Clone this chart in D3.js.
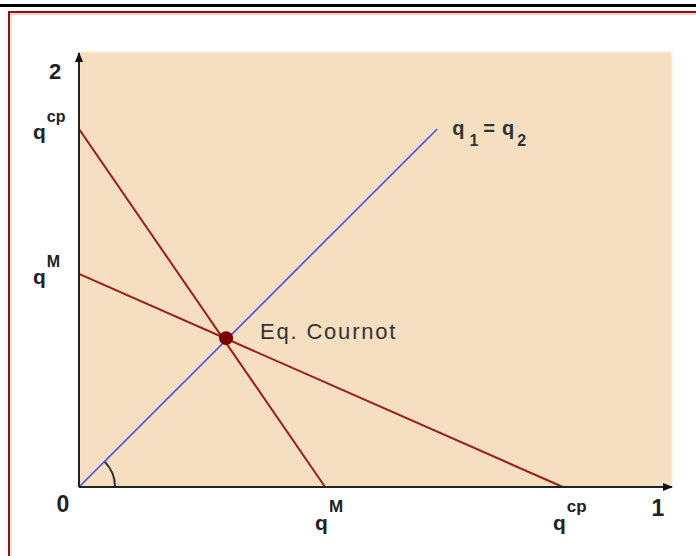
<!DOCTYPE html>
<html>
<head>
<meta charset="utf-8">
<script src="https://cdn.jsdelivr.net/npm/d3@7/dist/d3.min.js"></script>
<style>
  html, body { margin: 0; padding: 0; background: #fff; }
  svg { display: block; }
  text { font-family: "Liberation Sans", Arial, sans-serif; }
</style>
</head>
<body>
<svg id="chart" width="696" height="556"></svg>
<script>
// Cournot duopoly: reaction functions of firm 1 and firm 2 (quantities as shares of the axis)
const qM_x = 0.415;     // monopoly quantity on the q1 axis
const qcp_x = 0.816;    // competitive quantity on the q1 axis
const qM_y = 0.491;     // monopoly quantity on the q2 axis
const qcp_y = 0.825;    // competitive quantity on the q2 axis

// reaction curves, each as [start, end] in (q1, q2)
const reaction1 = [[0, qcp_y], [qM_x, 0]];
const reaction2 = [[0, qM_y], [qcp_x, 0]];
const diagonal = [[0, 0], [0.604, 0.825]];
const equilibrium = [0.248, 0.343];

const axisNames = { x: "1", y: "2", origin: "0" };
const xTicks = [{ v: qM_x, sup: "M" }, { v: qcp_x, sup: "cp" }];
const yTicks = [{ v: qM_y, sup: "M" }, { v: qcp_y, sup: "cp" }];

const svg = d3.select("#chart");
const x = d3.scaleLinear().domain([0, 1]).range([79, 672]);
const y = d3.scaleLinear().domain([0, 1]).range([487, 53]);

// page rule and frame
svg.append("rect").attr("x", 0).attr("y", 4).attr("width", 696).attr("height", 3).attr("fill", "#000");
svg.append("rect").attr("x", 9).attr("y", 12).attr("width", 700).attr("height", 560)
  .attr("fill", "none").attr("stroke", "#8e1414").attr("stroke-width", 2);
svg.append("line").attr("x1", 10).attr("x2", 696).attr("y1", 14).attr("y2", 14)
  .attr("stroke", "#dba6a6").attr("stroke-width", 1);
svg.append("line").attr("x1", 11).attr("x2", 11).attr("y1", 14).attr("y2", 556)
  .attr("stroke", "#e8c4c4").attr("stroke-width", 1);

const defs = svg.append("defs");
defs.append("filter").attr("id", "soft").attr("x", "-5%").attr("y", "-5%").attr("width", "110%").attr("height", "110%")
  .append("feGaussianBlur").attr("stdDeviation", 0.9);
const arrow = defs.append("marker").attr("id", "arrow").attr("viewBox", "0 0 10 10")
  .attr("refX", 9).attr("refY", 5).attr("markerWidth", 5).attr("markerHeight", 5)
  .attr("markerUnits", "strokeWidth").attr("orient", "auto");
arrow.append("path").attr("d", "M0,1 L10,5 L0,9 Z").attr("fill", "#111");

// plot background
svg.append("rect")
  .attr("x", x(0)).attr("y", y(1) - 1)
  .attr("width", x(1) - x(0)).attr("height", y(0) - y(1) + 1)
  .attr("fill", "#f5dfc0").attr("filter", "url(#soft)");

const line = d3.line().x(d => x(d[0])).y(d => y(d[1]));

// angle mark at the origin
const r = 36;
svg.append("path")
  .attr("d", d3.arc()({ innerRadius: r, outerRadius: r, startAngle: Math.PI / 4, endAngle: Math.PI / 2 }))
  .attr("transform", `translate(${x(0)},${y(0)})`)
  .attr("fill", "none").attr("stroke", "#333").attr("stroke-width", 2);

// 45-degree line
svg.append("path").datum(diagonal).attr("d", line)
  .attr("fill", "none").attr("stroke", "#4a4af0").attr("stroke-width", 1.6);

// reaction curves
[reaction1, reaction2].forEach(seg => {
  svg.append("path").datum(seg).attr("d", line)
    .attr("fill", "none").attr("stroke", "#991b1b").attr("stroke-width", 2);
});

// axes
svg.append("line").attr("x1", x(0)).attr("y1", y(0)).attr("x2", x(0)).attr("y2", y(1))
  .attr("stroke", "#222").attr("stroke-width", 2).attr("marker-end", "url(#arrow)");
svg.append("line").attr("x1", x(0)).attr("y1", y(0)).attr("x2", x(1)).attr("y2", y(0))
  .attr("stroke", "#222").attr("stroke-width", 2).attr("marker-end", "url(#arrow)");

// equilibrium point
svg.append("circle").attr("cx", x(equilibrium[0])).attr("cy", y(equilibrium[1])).attr("r", 7)
  .attr("fill", "#7a0000");
svg.append("text").attr("x", x(equilibrium[0]) + 34).attr("y", y(equilibrium[1]) + 1)
  .attr("font-size", 22).attr("letter-spacing", 1.8).attr("fill", "#333").text("Eq. Cournot");

// diagonal label q1 = q2
const diagLabel = svg.append("text").attr("x", x(diagonal[1][0]) + 15).attr("y", y(diagonal[1][1]) + 6)
  .attr("font-size", 20).attr("font-weight", "bold").attr("fill", "#333").attr("letter-spacing", 1);
diagLabel.append("tspan").text("q");
diagLabel.append("tspan").attr("dy", 11).attr("dx", 4).attr("font-size", 16).text("1");
diagLabel.append("tspan").attr("dy", -11).attr("dx", 4).text("=");
diagLabel.append("tspan").attr("dx", 6).text("q");
diagLabel.append("tspan").attr("dy", 11).attr("dx", 2).attr("font-size", 16).text("2");

// axis names
const bold = sel => sel.attr("font-weight", "bold").attr("fill", "#222");
bold(svg.append("text").attr("x", 55).attr("y", y(1) + 26).attr("font-size", 22).attr("text-anchor", "middle").text(axisNames.y));
bold(svg.append("text").attr("x", 63).attr("y", y(0) + 25).attr("font-size", 23).attr("text-anchor", "middle").text(axisNames.origin));
bold(svg.append("text").attr("x", x(1) - 14).attr("y", y(0) + 29).attr("font-size", 23).attr("text-anchor", "middle").text(axisNames.x));

// tick labels on q2 axis
yTicks.forEach(t => {
  const g = svg.append("text").attr("x", 33).attr("y", y(t.v) + 10).attr("font-size", 21);
  bold(g);
  g.append("tspan").text("q");
  g.append("tspan").attr("dy", -17).attr("dx", 1).attr("font-size", 16).text(t.sup);
});

// tick labels on q1 axis
xTicks.forEach(t => {
  const g = svg.append("text").attr("x", x(t.v) - 10).attr("y", y(0) + 43).attr("font-size", 21);
  bold(g);
  g.append("tspan").text("q");
  g.append("tspan").attr("dy", -18).attr("dx", 1).attr("font-size", 17).text(t.sup);
});
</script>
</body>
</html>
